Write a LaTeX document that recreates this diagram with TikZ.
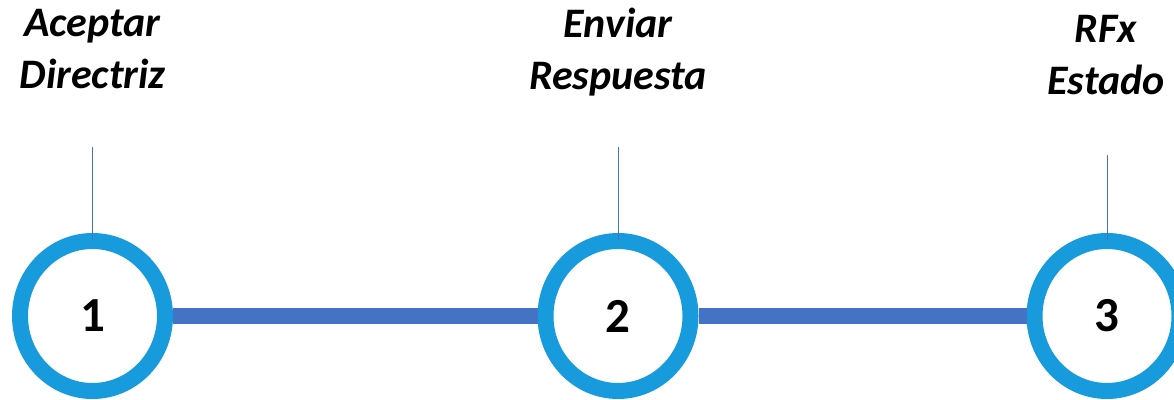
\documentclass[tikz,border=0pt]{standalone}
\usepackage{fontspec}
\setmainfont{Carlito}
\usetikzlibrary{shapes.geometric}
\definecolor{ringblue}{RGB}{23,155,220}
\definecolor{barblue}{RGB}{68,114,196}

\begin{document}
\begin{tikzpicture}[x=1pt, y=1pt,
		stage/.style={draw=ringblue, line width=16pt, fill=white, ellipse, minimum width=145pt, minimum height=150pt, inner sep=0pt, font=\fontsize{49}{49}\selectfont\bfseries},
		caption/.style={anchor=base, align=center, font=\fontsize{42}{52}\selectfont\bfseries\itshape},
		stem/.style={draw=barblue, line width=1pt}]
		\useasboundingbox (0, 0) rectangle (1174, 399);

		\draw (92.5, 310) 	node[caption] (lab1) 	{Aceptar\\Directriz};
		\draw (618, 309) 	node[caption] (lab2) 	{Enviar\\Respuesta};
		\draw (1106, 304) 	node[caption] (lab3) 	{RFx\\Estado};

		\draw (92.5, 83) 	node[stage] (s1) 	{1};
		\draw (618, 83) 	node[stage] (s2) 	{2};
		\draw (1107, 83) 	node[stage] (s3) 	{3};

		\coordinate (top1) at (92.5, 252);
		\coordinate (top2) at (618, 252);
		\coordinate (top3) at (1107, 243.5);

		\draw[barblue, line width=16pt] (s1.east) -- (s2.west);
		\draw[barblue, line width=16pt] (s2.east) -- (s3.west);

		\draw[stem] (top1) -- ([yshift=-7pt]s1.north);
		\draw[stem] (top2) -- ([yshift=-7pt]s2.north);
		\draw[stem] (top3) -- ([yshift=-7pt]s3.north);
	\end{tikzpicture}
\end{document}
